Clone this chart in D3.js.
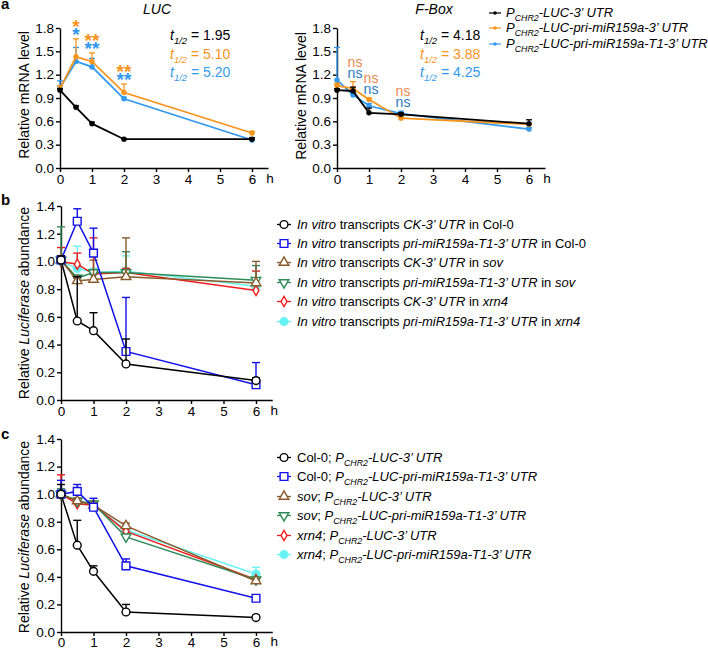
<!DOCTYPE html>
<html><head><meta charset="utf-8">
<script src="https://cdn.jsdelivr.net/npm/d3@7"></script>
<style>
body{margin:0;background:#fff;}
svg{font-family:"Liberation Sans",Arial,Helvetica,sans-serif;}
text{white-space:pre;}
</style>
</head><body>
<svg id="chart" width="708" height="649"></svg>
<script>
// ---------------- DATA ----------------
const timePoints = [0, 0.5, 1, 2, 6];
const xTickValues = [0, 1, 2, 3, 4, 5, 6];
const aYTicks = [0, 0.3, 0.6, 0.9, 1.2, 1.5, 1.8];
const bcYTicks = [0, 0.2, 0.4, 0.6, 0.8, 1.0, 1.2, 1.4];

// panel a - LUC
const lucBlack = [1.00, 0.78, 0.57, 0.37, 0.37];
const lucBlackTop = [1.02, 0.80, 0.59, 0.38, 0.39];
const lucOrange = [1.02, 1.43, 1.37, 0.97, 0.45];
const lucOrangeTop = [1.06, 1.66, 1.48, 1.08, 0.47];
const lucBlue = [1.03, 1.37, 1.30, 0.89, 0.36];
const lucBlueTop = [1.12, 1.55, 1.41, 0.91, 0.38];
const lucHalfLife = ["1.95", "5.10", "5.20"];
const lucSigX = [0.5, 1, 2];
const lucSigOrange = ["*", "**", "**"];
const lucSigBlue = ["*", "**", "**"];

// panel a - F-Box
const fbBlack = [1.00, 0.99, 0.71, 0.69, 0.57];
const fbBlackTop = [1.02, 1.04, 0.77, 0.71, 0.62];
const fbOrange = [1.06, 1.02, 0.88, 0.64, 0.56];
const fbOrangeTop = [1.09, 1.11, 0.90, 0.66, 0.58];
const fbBlue = [1.13, 0.94, 0.80, 0.70, 0.50];
const fbBlueTop = [1.55, 0.97, 0.83, 0.73, 0.52];
const fbHalfLife = ["4.18", "3.88", "4.25"];
const fbSigX = [0.5, 1, 2];
const fbSigOrange = ["ns", "ns", "ns"];
const fbSigBlue = ["ns", "ns", "ns"];

const aLegend = [
  [["P","i"],["CHR2","isub"],["-LUC-3\u2019 UTR","i"]],
  [["P","i"],["CHR2","isub"],["-LUC-pri-miR159a-3\u2019 UTR","i"]],
  [["P","i"],["CHR2","isub"],["-LUC-pri-miR159a-T1-3\u2019 UTR","i"]]
];

// panel b
const bBlack = [1.01, 0.57, 0.50, 0.26, 0.14];
const bBlackTop = [1.04, 0.89, 0.63, 0.44, 0.16];
const bBlue = [1.01, 1.29, 1.06, 0.35, 0.11];
const bBlueTop = [1.02, 1.38, 1.24, 0.74, 0.27];
const bBrown = [1.01, 0.86, 0.87, 0.89, 0.845];
const bBrownTop = [1.02, 0.88, 1.01, 1.17, 1.00];
const bGreen = [1.01, 0.88, 0.92, 0.92, 0.865];
const bGreenTop = [1.25, 0.90, 0.93, 1.07, 0.97];
const bRed = [1.00, 0.98, 0.91, 0.92, 0.79];
const bRedTop = [1.10, 1.06, 1.17, 0.95, 0.93];
const bCyan = [1.00, 0.95, 0.92, 0.93, 0.82];
const bCyanTop = [1.01, 1.11, 0.95, 1.04, 0.88];
const bLegend = [
  [["In vitro","i"],[" transcripts ",""],["CK-3\u2019 UTR","i"],[" in Col-0",""]],
  [["In vitro","i"],[" transcripts ",""],["pri-miR159a-T1-3\u2019 UTR","i"],[" in Col-0",""]],
  [["In vitro","i"],[" transcripts ",""],["CK-3\u2019 UTR","i"],[" in ",""],["sov","i"]],
  [["In vitro","i"],[" transcripts ",""],["pri-miR159a-T1-3\u2019 UTR","i"],[" in ",""],["sov","i"]],
  [["In vitro","i"],[" transcripts ",""],["CK-3\u2019 UTR","i"],[" in ",""],["xrn4","i"]],
  [["In vitro","i"],[" transcripts ",""],["pri-miR159a-T1-3\u2019 UTR","i"],[" in ",""],["xrn4","i"]]
];

// panel c
const cBlack = [1.00, 0.63, 0.44, 0.145, 0.105];
const cBlackTop = [1.07, 0.81, 0.48, 0.20, 0.12];
const cBlue = [1.00, 1.02, 0.905, 0.48, 0.245];
const cBlueTop = [1.10, 1.07, 0.97, 0.53, 0.265];
const cBrown = [1.00, 0.95, 0.92, 0.77, 0.37];
const cBrownTop = [1.01, 0.97, 0.94, 0.79, 0.39];
const cGreen = [1.00, 0.95, 0.93, 0.69, 0.38];
const cGreenTop = [1.04, 0.97, 0.95, 0.71, 0.40];
const cRed = [1.00, 0.93, 0.92, 0.73, 0.38];
const cRedTop = [1.14, 0.95, 0.93, 0.75, 0.40];
const cCyan = [1.00, 0.95, 0.92, 0.74, 0.42];
const cCyanTop = [1.01, 0.97, 0.94, 0.76, 0.47];
const cLegend = [
  [["Col-0; ",""],["P","i"],["CHR2","isub"],["-LUC-3\u2019 UTR","i"]],
  [["Col-0; ",""],["P","i"],["CHR2","isub"],["-LUC-pri-miR159a-T1-3\u2019 UTR","i"]],
  [["sov","i"],["; ",""],["P","i"],["CHR2","isub"],["-LUC-3\u2019 UTR","i"]],
  [["sov","i"],["; ",""],["P","i"],["CHR2","isub"],["-LUC-pri-miR159a-T1-3\u2019 UTR","i"]],
  [["xrn4","i"],["; ",""],["P","i"],["CHR2","isub"],["-LUC-3\u2019 UTR","i"]],
  [["xrn4","i"],["; ",""],["P","i"],["CHR2","isub"],["-LUC-pri-miR159a-T1-3\u2019 UTR","i"]]
];

// ---------------- STYLE ----------------
const C = {black:"#000000", orange:"#f7941d", blue:"#3399ee",
  nsOrange:"#ec8a50", nsBlue:"#2a7cc0",
  bBlack:"#000000", bBlue:"#1010e8", brown:"#8b5a2b", green:"#2e8b57", red:"#ee1c1c", cyan:"#66f2f2"};

const svg = d3.select("#chart");

function rich(sel, segs, x, y, opts = {}) {
  const size = opts.size || 13;
  const t = sel.append("text").attr("x", x).attr("y", y)
    .attr("font-size", size).attr("fill", opts.fill || "#000");
  if (opts.anchor) t.attr("text-anchor", opts.anchor);
  if (opts.transform) t.attr("transform", opts.transform);
  let shifted = 0;
  segs.forEach(([s, st]) => {
    const ts = t.append("tspan").text(s);
    if (st.includes("i")) ts.attr("font-style", "italic");
    if (st.includes("sub")) {
      ts.attr("font-size", size * 0.68).attr("dy", 4 - shifted); shifted = 4;
    } else if (shifted) { ts.attr("dy", -shifted); shifted = 0; }
  });
  return t;
}

function makePanel(p) {
  const x = d3.scaleLinear().domain([0, 6.5]).range([p.left, p.left + 6.5 * p.unit]);
  const y = d3.scaleLinear().domain([0, p.yMax]).range([p.bottom, p.top]);
  const g = svg.append("g");
  const ax = g.append("g").attr("transform", `translate(0,${p.bottom})`)
    .call(d3.axisBottom(x).tickValues(xTickValues).tickSize(4).tickSizeOuter(0).tickPadding(p.xPad || 2).tickFormat(d3.format("d")));
  const ay = g.append("g").attr("transform", `translate(${p.left},0)`)
    .call(d3.axisLeft(y).tickValues(p.yTicks).tickSize(4).tickSizeOuter(0).tickPadding(2).tickFormat(d3.format(".1f")));
  [ax, ay].forEach(a => {
    a.attr("font-family", null).attr("font-size", null);
    a.selectAll("path,line").attr("stroke", "#000").attr("stroke-width", 1.4);
    a.selectAll("text").attr("fill", "#000").attr("font-size", 13.5);
  });
  g.append("text").attr("x", x(6.56)).attr("y", p.bottom + 13 + (p.xPad || 2)).attr("text-anchor", "middle")
    .attr("font-size", 13.5).text("h");
  return {x, y, g};
}

function drawSeries(P, vals, tops, color, marker, opts) {
  const pts = timePoints.map((t, i) => ({t, v: vals[i], top: tops[i]}));
  const line = d3.line().x(d => P.x(d.t)).y(d => P.y(d.v));
  P.g.append("path").datum(pts).attr("d", line).attr("fill", "none")
    .attr("stroke", color).attr("stroke-width", opts.lw);
  const eb = P.g.append("g").attr("stroke", color).attr("stroke-width", opts.ew);
  pts.forEach(d => {
    eb.append("line").attr("x1", P.x(d.t)).attr("x2", P.x(d.t)).attr("y1", P.y(d.v)).attr("y2", P.y(d.top));
    eb.append("line").attr("x1", P.x(d.t) - opts.cap).attr("x2", P.x(d.t) + opts.cap).attr("y1", P.y(d.top)).attr("y2", P.y(d.top));
  });
  pts.forEach(d => drawMarker(P.g, P.x(d.t), P.y(d.v), color, marker));
}

function drawMarker(g, cx, cy, color, marker) {
  const types = {circle: [d3.symbolCircle, 48, 0], square: [d3.symbolSquare, 60, 0],
    tri: [d3.symbolTriangle, 40, 0], triDown: [d3.symbolTriangle, 40, 180],
    diamond: [d3.symbolDiamond, 30, 0], dot: [d3.symbolCircle, 60, 0], small: [d3.symbolCircle, 20, 0]};
  const [type, size, rot] = types[marker];
  const filled = marker === "dot" || marker === "small";
  g.append("path").attr("d", d3.symbol().type(type).size(size)())
    .attr("transform", `translate(${cx},${cy}) rotate(${rot})`)
    .attr("fill", filled ? color : "#fff").attr("stroke", color).attr("stroke-width", filled ? 0.5 : 1.4);
}

// ---------------- PANEL a ----------------
const aOpts = {lw: 1.8, ew: 1.3, cap: 3};
const PL = makePanel({left: 60, unit: 32, bottom: 168, top: 28, yMax: 1.8, yTicks: aYTicks});
drawSeries(PL, lucBlue, lucBlueTop, C.blue, "small", aOpts);
drawSeries(PL, lucOrange, lucOrangeTop, C.orange, "small", aOpts);
drawSeries(PL, lucBlack, lucBlackTop, C.black, "small", aOpts);

const PF = makePanel({left: 337, unit: 32, bottom: 168, top: 28, yMax: 1.8, yTicks: aYTicks});
drawSeries(PF, fbBlue, fbBlueTop, C.blue, "small", aOpts);
drawSeries(PF, fbOrange, fbOrangeTop, C.orange, "small", aOpts);
drawSeries(PF, fbBlack, fbBlackTop, C.black, "small", aOpts);

// significance marks
function maxTop(t, arrs) { const i = timePoints.indexOf(t); return d3.max(arrs, a => a[i]); }
lucSigX.forEach((t, k) => {
  const top = PL.y(maxTop(t, [lucOrangeTop, lucBlueTop, lucBlackTop]));
  PL.g.append("text").attr("x", PL.x(t)).attr("y", top - 17 + 11).attr("text-anchor", "middle")
    .attr("font-size", 19).attr("font-weight", "bold").attr("fill", C.orange).text(lucSigOrange[k]);
  PL.g.append("text").attr("x", PL.x(t)).attr("y", top - 9 + 11).attr("text-anchor", "middle")
    .attr("font-size", 19).attr("font-weight", "bold").attr("fill", C.blue).text(lucSigBlue[k]);
});
fbSigX.forEach((t, k) => {
  const top = PF.y(maxTop(t, [fbOrangeTop, fbBlueTop.map((v, i) => i === 0 ? 0 : v), fbBlackTop]));
  PF.g.append("text").attr("x", PF.x(t) + 2).attr("y", top - 19 + 4).attr("text-anchor", "middle")
    .attr("font-size", 14).attr("fill", C.nsOrange).text(fbSigOrange[k]);
  PF.g.append("text").attr("x", PF.x(t) + 2).attr("y", top - 8 + 4).attr("text-anchor", "middle")
    .attr("font-size", 14).attr("fill", C.nsBlue).text(fbSigBlue[k]);
});

// titles and half-lives
svg.append("text").attr("x", 157).attr("y", 14).attr("text-anchor", "middle").attr("font-size", 14)
  .attr("font-style", "italic").text("LUC");
svg.append("text").attr("x", 434).attr("y", 14).attr("text-anchor", "middle").attr("font-size", 14)
  .attr("font-style", "italic").text("F-Box");
const hlColors = [C.black, C.orange, C.blue];
const hlY = [40, 59, 77];
lucHalfLife.forEach((v, i) => rich(svg, [["t","i"],["1/2","isub"],[" = " + v, ""]], 170, hlY[i], {size: 14, fill: hlColors[i]}));
fbHalfLife.forEach((v, i) => rich(svg, [["t","i"],["1/2","isub"],[" = " + v, ""]], 420, hlY[i], {size: 14, fill: hlColors[i]}));

// legend a
const aLegY = [17, 32, 48];
aLegend.forEach((segs, i) => {
  svg.append("line").attr("x1", 489).attr("x2", 501).attr("y1", aLegY[i] - 4).attr("y2", aLegY[i] - 4)
    .attr("stroke", hlColors[i]).attr("stroke-width", 1.2);
  svg.append("circle").attr("cx", 495).attr("cy", aLegY[i] - 4).attr("r", 1.8).attr("fill", hlColors[i]);
  rich(svg, segs, 506, aLegY[i], {size: 13});
});

// y titles
svg.append("text").attr("transform", "translate(29,95) rotate(-90)").attr("text-anchor", "middle")
  .attr("font-size", 14).text("Relative mRNA level");
svg.append("text").attr("transform", "translate(306,96) rotate(-90)").attr("text-anchor", "middle")
  .attr("font-size", 14).text("Relative mRNA level");

// ---------------- PANELS b & c ----------------
const bcOpts = {lw: 1.5, ew: 1.4, cap: 4};
const bcColors = [C.bBlack, C.bBlue, C.brown, C.green, C.red, C.cyan];
const bcMarkers = ["circle", "square", "tri", "triDown", "diamond", "dot"];

function drawBC(P, series, legend, legY) {
  for (let i = series.length - 1; i >= 0; i--) {
    drawSeries(P, series[i][0], series[i][1], bcColors[i], bcMarkers[i], bcOpts);
  }
  legend.forEach((segs, i) => {
    const cy = legY[i] - 4.5;
    svg.append("line").attr("x1", 277).attr("x2", 291).attr("y1", cy).attr("y2", cy)
      .attr("stroke", bcColors[i]).attr("stroke-width", 1.3);
    drawMarker(svg, 284, cy, bcColors[i], bcMarkers[i]);
    rich(svg, segs, 297, legY[i], {size: 13});
  });
}

const PB = makePanel({left: 61, unit: 32.5, bottom: 400, top: 206, yMax: 1.4, yTicks: bcYTicks});
drawBC(PB, [[bBlack, bBlackTop], [bBlue, bBlueTop], [bBrown, bBrownTop], [bGreen, bGreenTop], [bRed, bRedTop], [bCyan, bCyanTop]],
  bLegend, [229, 248, 267, 287, 306, 326]);

const PC = makePanel({left: 61, unit: 32.5, bottom: 632, top: 439, yMax: 1.4, yTicks: bcYTicks, xPad: 1});
drawBC(PC, [[cBlack, cBlackTop], [cBlue, cBlueTop], [cBrown, cBrownTop], [cGreen, cGreenTop], [cRed, cRedTop], [cCyan, cCyanTop]],
  cLegend, [462, 481, 501, 520, 540, 559]);

rich(svg, [["Relative ",""],["Luciferase","i"],[" abundance",""]], 0, 0, {size: 14, anchor: "middle", transform: "translate(29,303) rotate(-90)"});
rich(svg, [["Relative ",""],["Luciferase","i"],[" abundance",""]], 0, 0, {size: 14, anchor: "middle", transform: "translate(29,537) rotate(-90)"});

// panel letters
[["a", 9], ["b", 205], ["c", 439]].forEach(([l, y]) =>
  svg.append("text").attr("x", 1).attr("y", y).attr("font-size", 15).attr("font-weight", "bold").text(l));
</script>
</body></html>
